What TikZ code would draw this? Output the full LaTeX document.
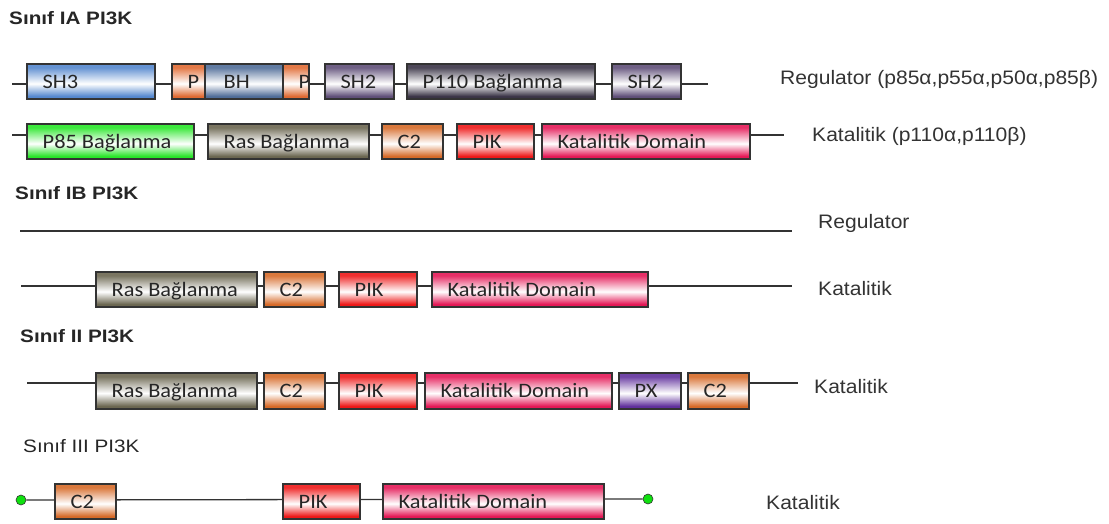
\documentclass[tikz,border=0pt]{standalone}
\usepackage{fontspec}
\setmainfont{Liberation Sans}
\newfontfamily\boxfont[FakeStretch=1.09]{Carlito}
\newfontfamily\labfont[FakeStretch=1.08]{Liberation Sans}
\newfontfamily\titfont[FakeStretch=1.15]{Liberation Sans}
\usetikzlibrary{calc}
\definecolor{bordc}{HTML}{333333}
\definecolor{cblue}{HTML}{5487CE}
\definecolor{corange}{HTML}{E06A32}
\definecolor{csteel}{HTML}{4F6C98}
\definecolor{cpurp}{HTML}{5F4E78}
\definecolor{cdark}{HTML}{3A3446}
\definecolor{cgreen}{HTML}{28E628}
\definecolor{colive}{HTML}{6B6650}
\definecolor{cctwo}{HTML}{D66A28}
\definecolor{cpik}{HTML}{EE1818}
\definecolor{ckat}{HTML}{E41856}
\definecolor{cpx}{HTML}{60309C}
\definecolor{cdot}{HTML}{10E010}
\colorlet{cc}{cblue}
\pgfdeclareverticalshading[cc]{dshade}{100bp}{color(0bp)=(cc); color(25bp)=(cc); color(29bp)=(cc); color(47bp)=(white); color(70bp)=(cc!90!white); color(100bp)=(cc!90!white)}
\tikzset{
  dbox/.style={draw=bordc, line width=1.3pt, inner sep=0pt, outer sep=0pt, shading=dshade},
  dtxt/.style={font=\boxfont\fontsize{20.5}{24}\selectfont, text=black!85, inner sep=0pt},
  lab/.style={font=\labfont\fontsize{19.5}{23}\selectfont, text=black!80, inner sep=0pt, anchor=base west},
  tit/.style={font=\titfont\bfseries\fontsize{18}{22}\selectfont, text=black!85, inner sep=0pt, anchor=base west},
  bb/.style={draw=bordc, line width=1.3pt},
  gdot/.style={circle, fill=cdot, draw=bordc, line width=0.6pt, minimum size=10pt, inner sep=0pt}
}
% name, x1, x2, ytop, ybot, colour, text
\newcommand\dom[7]{%
  \colorlet{cc}{#6}%
  \node[dbox, minimum width={(#3-#2)*1pt}, minimum height={(#5-#4)*1pt}]
        (#1) at ({(#2+#3)/2},{(#4+#5)/2}) {};
  \node[dtxt, anchor=base west] (#1t) at ($(#1.west)+(15.5,6.8)$) {#7};
}
\begin{document}
\begin{tikzpicture}[x=1pt,y=-1pt]
\useasboundingbox (0,0) rectangle (1109,523);
% titles
\node[tit] (t1) at (9,24) {Sınıf IA PI3K};
\node[tit] (t2) at (15,199) {Sınıf IB PI3K};
\node[tit] (t3) at (20,342) {Sınıf II PI3K};
\node[tit, font=\titfont\fontsize{18}{22}\selectfont] (t4) at (23,452) {Sınıf III PI3K};
% backbones
\coordinate (a1) at (12,84);  \coordinate (a2) at (708,84);
\coordinate (b1) at (12,135); \coordinate (b2) at (784,135);
\coordinate (c1) at (20,231); \coordinate (c2) at (792,231);
\coordinate (d1) at (21,286); \coordinate (d2) at (792,286);
\coordinate (e1) at (27,383); \coordinate (e2) at (798,383);
\draw[bb] (a1) -- (a2);
\draw[bb] (b1) -- (b2);
\draw[bb] (c1) -- (c2);
\draw[bb] (d1) -- (d2);
\draw[bb] (e1) -- (e2);
\node[gdot] (f1) at (21,500) {};
\node[gdot] (f2) at (648,499) {};
\draw[bb] (f1) -- (f2);
% row 1
\dom{r1a}{27}{155}{64}{99}{cblue}{SH3}
\dom{r1b}{172}{205}{64}{99}{corange}{P}
\dom{r1c}{205}{283}{64}{99}{csteel}{\hspace{3pt}BH}
\dom{r1d}{283}{309}{64}{99}{corange}{P}
\dom{r1e}{325}{394}{64}{99}{cpurp}{SH2}
\dom{r1f}{407}{595}{64}{99}{cdark}{P110 Bağlanma}
\dom{r1g}{612}{681}{64}{99}{cpurp}{SH2}
% row 2
\dom{r2a}{27}{194}{124}{159}{cgreen}{P85 Bağlanma}
\dom{r2b}{208}{369}{124}{159}{colive}{Ras Bağlanma}
\dom{r2c}{382}{443}{124}{159}{cctwo}{C2}
\dom{r2d}{457}{534}{124}{159}{cpik}{PIK}
\dom{r2e}{542}{750}{124}{159}{ckat}{Katalitik Domain}
% row IB catalytic
\dom{r3a}{96}{257}{272}{307}{colive}{Ras Bağlanma}
\dom{r3b}{264}{325}{272}{307}{cctwo}{C2}
\dom{r3c}{339}{417}{272}{307}{cpik}{PIK}
\dom{r3d}{432}{648}{272}{307}{ckat}{Katalitik Domain}
% row II
\dom{r4a}{96}{257}{373}{409}{colive}{Ras Bağlanma}
\dom{r4b}{264}{325}{373}{409}{cctwo}{C2}
\dom{r4c}{339}{417}{373}{409}{cpik}{PIK}
\dom{r4d}{425}{612}{373}{409}{ckat}{Katalitik Domain}
\dom{r4e}{619}{681}{373}{409}{cpx}{PX}
\dom{r4f}{688}{749}{373}{409}{cctwo}{C2}
% row III
\dom{r5a}{55}{116}{484}{519}{cctwo}{C2}
\dom{r5b}{283}{360}{484}{519}{cpik}{PIK}
\dom{r5c}{383}{604}{484}{519}{ckat}{Katalitik Domain}
% right labels
\node[lab] (l1) at (780,84) {Regulator (p85α,p55α,p50α,p85β)};
\node[lab] (l2) at (812,141) {Katalitik (p110α,p110β)};
\node[lab] (l3) at (818,228) {Regulator};
\node[lab] (l4) at (818,295) {Katalitik};
\node[lab] (l5) at (814,393) {Katalitik};
\node[lab] (l6) at (766,509) {Katalitik};
\end{tikzpicture}
\end{document}
